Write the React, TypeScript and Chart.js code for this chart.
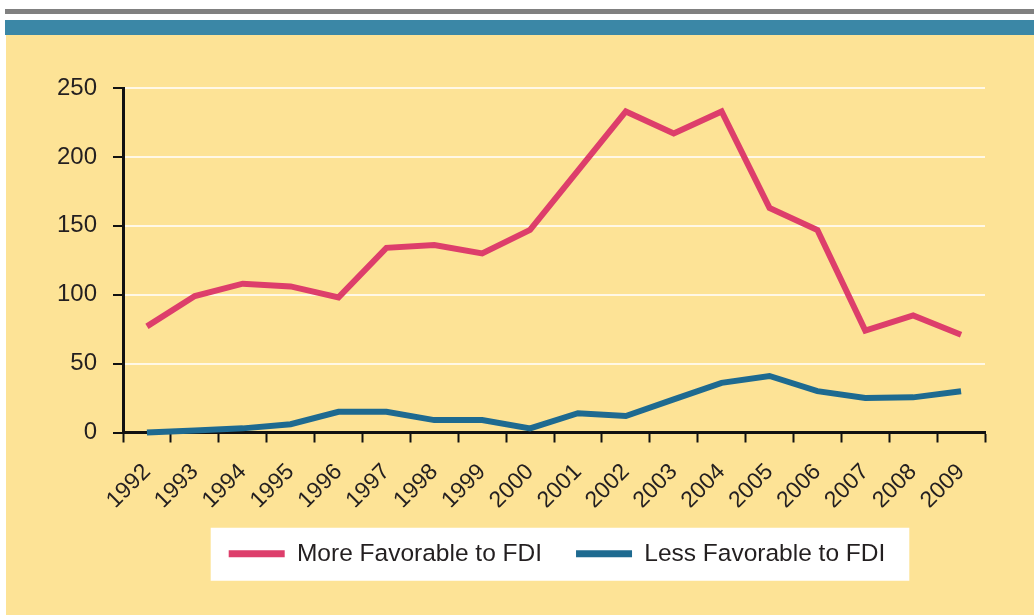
import { useEffect, useRef } from "react";
import { Chart, registerables } from "chart.js";

Chart.register(...registerables);

const years = [
  "1992", "1993", "1994", "1995", "1996", "1997", "1998", "1999", "2000",
  "2001", "2002", "2003", "2004", "2005", "2006", "2007", "2008", "2009",
];
const moreFavorable = [77, 99, 108, 106, 98, 134, 136, 130, 147, 190, 233, 217, 233, 163, 147, 74, 85, 71];
const lessFavorable = [0, 1.5, 3, 6, 15, 15, 9, 9, 3, 14, 12, 24, 36, 41, 30, 25, 25.5, 30];
const seriesNames = ["More Favorable to FDI", "Less Favorable to FDI"];
const yMin = 0;
const yMax = 250;
const yStep = 50;

const FONT = "'Liberation Sans', Arial, Helvetica, sans-serif";
const TEXT = "#231f20";
const PINK = "#dd3e6b";
const BLUE = "#1e6a90";

export default function App() {
  const ref = useRef<HTMLCanvasElement | null>(null);

  useEffect(() => {
    if (!ref.current) return;

    const legendShift = {
      id: "legendShift",
      afterLayout(chart: any) {
        const lg = chart.legend;
        if (lg) {
          lg.left += 3;
          lg.right += 3;
        }
      },
    };

    const legendBox = {
      id: "legendBox",
      beforeDraw(chart: any) {
        const lg = chart.legend;
        if (!lg || !lg.legendHitBoxes || !lg.legendHitBoxes.length) return;
        const hb = lg.legendHitBoxes;
        const first = hb[0];
        const last = hb[hb.length - 1];
        const cy = first.top + first.height / 2;
        const ctx = chart.ctx;
        ctx.save();
        ctx.fillStyle = "#ffffff";
        ctx.fillRect(first.left - 18, cy - 26, last.left + last.width - first.left + 42, 53);
        ctx.restore();
      },
    };

    const chart = new Chart(ref.current, {
      type: "line",
      data: {
        labels: years,
        datasets: [
          {
            label: seriesNames[0],
            data: moreFavorable,
            borderColor: PINK,
            backgroundColor: PINK,
            borderWidth: 6,
            pointRadius: 0,
            tension: 0,
            clip: false,
          },
          {
            label: seriesNames[1],
            data: lessFavorable,
            borderColor: BLUE,
            backgroundColor: BLUE,
            borderWidth: 6,
            pointRadius: 0,
            tension: 0,
            clip: false,
          },
        ],
      },
      options: {
        responsive: false,
        animation: false,
        devicePixelRatio: 1,
        layout: { padding: { top: 88, right: 49, left: 0, bottom: 39 } },
        plugins: {
          tooltip: { enabled: false },
          title: { display: false },
          legend: {
            display: true,
            position: "bottom",
            fullSize: false,
            labels: {
              boxWidth: 56,
              boxHeight: 7,
              padding: 34,
              color: TEXT,
              font: { size: 24.5, family: FONT },
              generateLabels: (c: any) =>
                (Chart.defaults.plugins.legend.labels as any)
                  .generateLabels(c)
                  .map((l: any) => ({ ...l, lineWidth: 0 })),
            },
          },
        },
        scales: {
          x: {
            type: "category",
            offset: true,
            afterFit: (s: any) => {
              s.height = 75;
            },
            grid: {
              offset: true,
              drawOnChartArea: false,
              drawTicks: true,
              tickLength: 10,
              tickColor: "#111",
              tickWidth: 2,
            },
            border: { display: true, color: "#111", width: 3 },
            ticks: {
              autoSkip: false,
              minRotation: 45,
              maxRotation: 45,
              padding: 16,
              color: TEXT,
              font: { size: 23, family: FONT },
            },
          },
          y: {
            min: yMin,
            max: yMax,
            afterFit: (s: any) => {
              s.width = 123;
            },
            grid: {
              color: "#fff8e6",
              lineWidth: 2,
              drawTicks: true,
              tickLength: 10,
              tickColor: "#111",
              tickWidth: 2,
            },
            border: { display: true, color: "#111", width: 3 },
            ticks: {
              stepSize: yStep,
              padding: 16,
              color: TEXT,
              font: { size: 24, family: FONT },
            },
          },
        },
      },
      plugins: [legendShift, legendBox],
    } as any);

    return () => chart.destroy();
  }, []);

  return (
    <div
      style={{
        position: "fixed",
        left: 0,
        top: 0,
        width: 1034,
        height: 615,
        background: "#ffffff",
        overflow: "hidden",
      }}
    >
      <div style={{ position: "absolute", left: 5, top: 9, right: 0, height: 5, background: "#808080" }} />
      <div style={{ position: "absolute", left: 5, top: 20, right: 0, height: 15, background: "#3b87a6" }} />
      <div style={{ position: "absolute", left: 6, top: 35, right: 0, bottom: 0, background: "#fde396" }} />
      <canvas
        ref={ref}
        width={1034}
        height={615}
        style={{ position: "absolute", left: 0, top: 0, width: 1034, height: 615 }}
      />
    </div>
  );
}
